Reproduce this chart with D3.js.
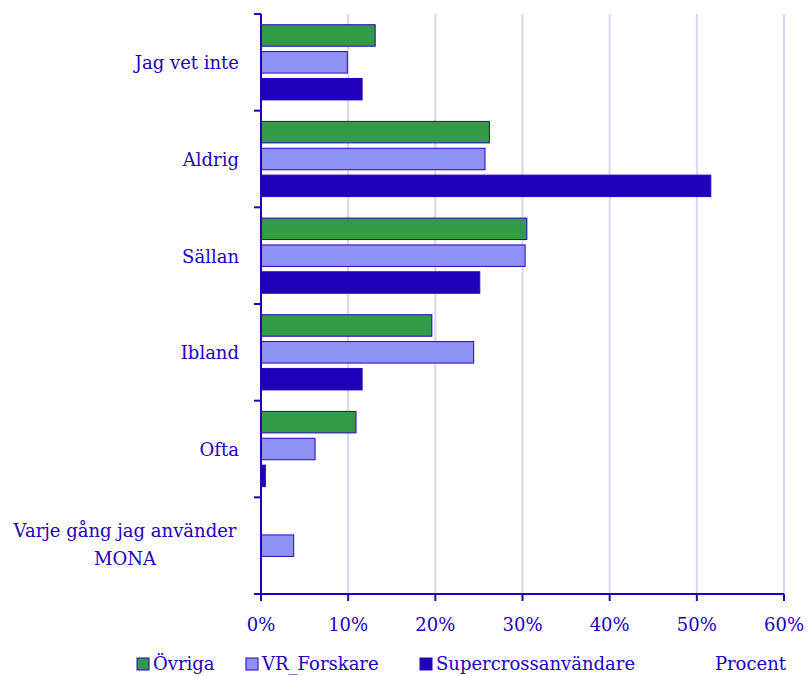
<!DOCTYPE html>
<html><head><meta charset="utf-8">
<script src="https://cdn.jsdelivr.net/npm/d3@7"></script>
<style>body{margin:0;background:#fff}svg{display:block}text{font-family:"DejaVu Serif",serif;fill:#2200bb}</style>
</head><body>
<script>
const categories = ["Jag vet inte","Aldrig","Sällan","Ibland","Ofta","Varje gång jag använder MONA"];
const seriesNames = ["Övriga","VR_Forskare","Supercrossanvändare"];
const ovriga = [13.1, 26.2, 30.5, 19.6, 10.9, 0];
const vrForskare = [9.9, 25.7, 30.3, 24.4, 6.2, 3.75];
const supercross = [11.6, 51.6, 25.1, 11.6, 0.5, 0];
const xTicks = [0,10,20,30,40,50,60];
const colors = ["#339a45","#8f92f5","#2200bb"];
const series = [ovriga, vrForskare, supercross];

const W=807,H=676, pL=261, pR=784, pT=14, pB=594, FS=18;
const svg=d3.select("body").append("svg").attr("width",W).attr("height",H);
const x=d3.scaleLinear().domain([0,60]).range([pL,pR]);
const y=d3.scaleBand().domain(categories).range([pT,pB]);
const inner=d3.scaleBand().domain(d3.range(3)).range([0,y.bandwidth()]).paddingInner(0.2).paddingOuter(0.4);

// grid
svg.append("g").selectAll("line").data(xTicks.slice(1)).join("line")
  .attr("x1",d=>x(d)).attr("x2",d=>x(d)).attr("y1",pT).attr("y2",pB)
  .attr("stroke","#d6d6f3").attr("stroke-width",2);

// bars
categories.forEach((c,i)=>{
  series.forEach((s,j)=>{
    if(s[i]<=0) return;
    svg.append("rect").attr("x",x(0)).attr("y",y(c)+inner(j))
      .attr("width",x(s[i])-x(0)).attr("height",inner.bandwidth())
      .attr("fill",colors[j]).attr("stroke","#2a00c0").attr("stroke-width",1);
  });
});

// y axis
const ya=svg.append("g");
ya.append("line").attr("x1",pL).attr("x2",pL).attr("y1",pT).attr("y2",pB).attr("stroke","#2200bb").attr("stroke-width",2);
const bounds=categories.map(c=>y(c)).concat([pB]);
ya.selectAll("line.t").data(bounds).join("line").attr("class","t")
  .attr("x1",pL-7).attr("x2",pL).attr("y1",d=>d).attr("y2",d=>d).attr("stroke","#2200bb").attr("stroke-width",2);
categories.forEach(c=>{
  const cy=y(c)+y.bandwidth()/2;
  if(c.length>20){
    const t=svg.append("text").attr("text-anchor","middle").attr("font-size",FS);
    t.append("tspan").attr("x",125).attr("y",cy-8.5).text("Varje gång jag använder");
    t.append("tspan").attr("x",125).attr("y",cy+19.5).text("MONA");
  } else {
    svg.append("text").attr("x",239).attr("y",cy+7).attr("text-anchor","end").attr("font-size",FS).text(c);
  }
});

// x axis
const xa=svg.append("g");
xa.append("line").attr("x1",pL-7).attr("x2",pR).attr("y1",pB).attr("y2",pB).attr("stroke","#2200bb").attr("stroke-width",2);
xa.selectAll("line.t").data(xTicks).join("line").attr("class","t")
  .attr("x1",d=>x(d)).attr("x2",d=>x(d)).attr("y1",pB).attr("y2",pB+7).attr("stroke","#2200bb").attr("stroke-width",2);
xa.selectAll("text").data(xTicks).join("text").attr("x",d=>x(d)).attr("y",631)
  .attr("text-anchor","middle").attr("font-size",FS).text(d=>d+"%");

// legend
const lx=[137,246,420];
seriesNames.forEach((n,j)=>{
  svg.append("rect").attr("x",lx[j]).attr("y",658).attr("width",12).attr("height",12)
    .attr("fill",colors[j]).attr("stroke","#2a00c0").attr("stroke-width",1);
  svg.append("text").attr("x",lx[j]+16).attr("y",670).attr("font-size",FS).text(n);
});
svg.append("text").attr("x",786).attr("y",670).attr("text-anchor","end").attr("font-size",FS).text("Procent");
</script>
</body></html>
